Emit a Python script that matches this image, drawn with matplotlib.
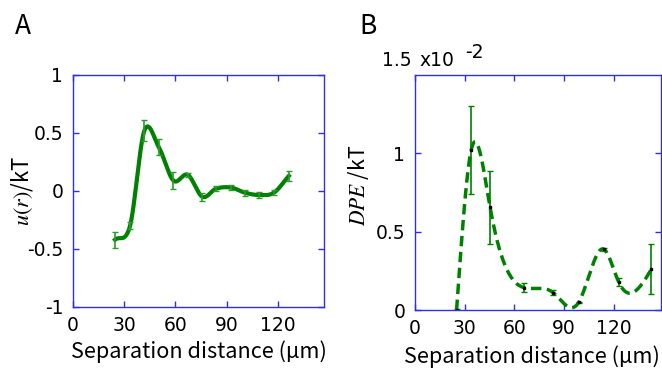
import numpy as np
import matplotlib
matplotlib.use('Agg')
import matplotlib.pyplot as plt

plt.rcParams['font.family'] = ['Noto Sans CJK KR', 'DejaVu Sans']
plt.rcParams['mathtext.fontset'] = 'stix'

# Panel A: pair potential u(r)/kT
sep_a = [24.6, 33.4, 41.8, 50.2, 58.8, 67.2, 75.8, 83.8, 92.4, 100.8, 109.2, 117.6, 126.4]
u_a = [-0.42, -0.30, 0.52, 0.38, 0.09, 0.14, -0.05, 0.02, 0.03, -0.015, -0.035, -0.015, 0.13]
err_a = [0.07, 0.03, 0.09, 0.07, 0.07, 0.015, 0.035, 0.02, 0.02, 0.025, 0.025, 0.02, 0.04]

# Panel B: DPE/kT, values in units of 1e-2
sep_b = [25.1, 33.9, 45.3, 66.1, 83.5, 98.8, 114.0, 122.9, 142.7]
dpe_b = [0.0, 1.02, 0.657, 0.142, 0.11, 0.049, 0.388, 0.18, 0.26]
err_b = [0.005, 0.28, 0.233, 0.03, 0.015, 0.004, 0.01, 0.025, 0.16]

xticks = [0, 30, 60, 90, 120]
blue = '#3030e0'
green = '#008000'
tickfont = 'DejaVu Sans'


# Catmull-Rom style cubic Hermite curve through the points
def hermite(x, y, n=400):
    x = np.asarray(x, float)
    y = np.asarray(y, float)
    m = np.empty_like(y)
    m[1:-1] = (y[2:] - y[:-2]) / (x[2:] - x[:-2])
    m[0] = (y[1] - y[0]) / (x[1] - x[0])
    m[-1] = (y[-1] - y[-2]) / (x[-1] - x[-2])
    xs = np.linspace(x[0], x[-1], n)
    k = np.clip(np.searchsorted(x, xs) - 1, 0, len(x) - 2)
    h = x[k + 1] - x[k]
    t = (xs - x[k]) / h
    h00 = 2 * t ** 3 - 3 * t ** 2 + 1
    h10 = t ** 3 - 2 * t ** 2 + t
    h01 = -2 * t ** 3 + 3 * t ** 2
    h11 = t ** 3 - t ** 2
    return xs, h00 * y[k] + h10 * h * m[k] + h01 * y[k + 1] + h11 * h * m[k + 1]


# natural cubic spline
def spline(x, y, n=400):
    x = np.asarray(x, float)
    y = np.asarray(y, float)
    h = np.diff(x)
    M = len(x)
    A = np.zeros((M, M))
    r = np.zeros(M)
    A[0, 0] = A[-1, -1] = 1
    for i in range(1, M - 1):
        A[i, i - 1] = h[i - 1]
        A[i, i] = 2 * (h[i - 1] + h[i])
        A[i, i + 1] = h[i]
        r[i] = 3 * ((y[i + 1] - y[i]) / h[i] - (y[i] - y[i - 1]) / h[i - 1])
    c = np.linalg.solve(A, r)
    b = (y[1:] - y[:-1]) / h - h * (2 * c[:-1] + c[1:]) / 3
    d = (c[1:] - c[:-1]) / (3 * h)
    xs = np.linspace(x[0], x[-1], n)
    k = np.clip(np.searchsorted(x, xs) - 1, 0, M - 2)
    t = xs - x[k]
    return xs, y[k] + b[k] * t + c[k] * t ** 2 + d[k] * t ** 3


def style(ax):
    for s in ax.spines.values():
        s.set_color(blue)
        s.set_linewidth(1.0)
    ax.tick_params(direction='in', color=blue, top=True, right=True,
                   length=4, width=1, labelsize=13.5, pad=6.5)
    ax.tick_params(axis='y', pad=7)
    ax.set_xticks(xticks)
    for lab in ax.get_xticklabels() + ax.get_yticklabels():
        lab.set_family(tickfont)
    ax.set_xlabel('Separation distance (µm)', fontsize=15.6, labelpad=4)


fig = plt.figure(figsize=(6.62, 3.69), dpi=100)

# ---- A ----
axA = fig.add_axes([73 / 662, 1 - 307 / 369, 251 / 662, 232 / 369])
xs, ys = hermite(sep_a, u_a)
axA.plot(xs, ys, color=green, lw=3)
axA.errorbar(sep_a, u_a, yerr=err_a, fmt='none', ecolor='#2e9a2e',
             elinewidth=1.2, capsize=2.5, capthick=1)
axA.set_xlim(0, 147)
axA.set_ylim(-1, 1)
axA.set_yticks([-1, -0.5, 0, 0.5, 1])
axA.set_yticklabels(['-1', '-0.5', '0', '0.5', '1'])
style(axA)
axA.set_ylabel(r'$u(r)$/kT', fontsize=16)
axA.yaxis.set_label_coords(-0.15, 0.5)
fig.text(15 / 662, 1 - 27 / 369, 'A', fontsize=19, va='center', ha='left')

# ---- B ----
axB = fig.add_axes([415 / 662, 1 - 310 / 369, 246 / 662, 235 / 369])
xs, ys = spline(sep_b, dpe_b)
axB.plot(xs, ys, color=green, lw=2.5, ls=(0, (3, 1.6)))
axB.errorbar(sep_b, dpe_b, yerr=err_b, fmt='none', ecolor=green,
             elinewidth=1.2, capsize=2.5, capthick=1)
axB.plot(sep_b, dpe_b, 's', color='black', ms=1.8, ls='none')
axB.set_xlim(0, 148.5)
axB.set_ylim(0, 1.5)
axB.set_yticks([0, 0.5, 1])
axB.set_yticklabels(['0', '0.5', '1'])
style(axB)
axB.xaxis.set_label_coords(0.475, -0.15)
axB.set_ylabel(r'$DPE$ /kT', fontsize=15.5)
axB.yaxis.set_label_coords(-0.18, 0.53)
fig.text(412 / 662, 1 - 61 / 369, '1.5', fontsize=13.5, family=tickfont,
         ha='right', va='center')
fig.text(419 / 662, 1 - 61 / 369, 'x10', fontsize=13.5, family=tickfont,
         ha='left', va='center')
fig.text(465 / 662, 1 - 52 / 369, '-2', fontsize=13.5, family=tickfont,
         ha='left', va='center')
fig.text(359 / 662, 1 - 27 / 369, 'B', fontsize=19, va='center', ha='left')

fig.savefig('out.png', dpi=100)
